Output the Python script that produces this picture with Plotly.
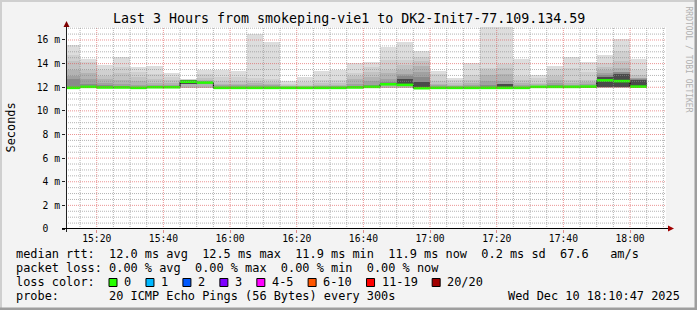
import plotly.graph_objects as go
import pandas as pd

# ---------------- data ----------------
title_text = "Last 3 Hours from smokeping-vie1 to DK2-Init7-77.109.134.59"
y_axis_title = "Seconds"
watermark_text = "RRDTOOL / TOBI OETIKER"
window_start = "2025-12-10 15:10:47"
window_end = "2025-12-10 18:10:47"
first_step = "2025-12-10 15:10:00"
step_minutes = 5

# median RTT per 5-minute step (ms)
median_rtt = [11.95, 12.03, 11.98, 11.98, 11.95, 12.00, 12.00, 12.47, 12.40, 11.95,
              11.95, 11.95, 11.95, 11.95, 11.95, 11.95, 11.95, 11.98, 12.03, 12.25,
              12.20, 11.92, 11.95, 11.95, 11.95, 11.95, 11.95, 11.95, 12.03, 12.03,
              12.03, 12.05, 12.58, 12.52, 12.05]
# lowest ping per step
rtt_min = [11.88, 11.92, 11.90, 11.90, 11.88, 11.90, 11.90, 11.95, 11.95, 11.88,
           11.88, 11.88, 11.88, 11.88, 11.88, 11.88, 11.88, 11.90, 11.92, 11.95,
           11.95, 11.85, 11.88, 11.88, 11.88, 11.88, 11.88, 11.88, 11.92, 11.92,
           11.92, 11.95, 11.95, 11.92, 11.95]
# smoke: outer (max) to inner layer tops
smoke_max = [15.57, 14.38, 13.90, 14.58, 13.68, 13.79, 13.22, 12.72, 13.45, 13.45,
             13.36, 16.55, 15.85, 12.56, 12.87, 13.40, 13.50, 14.05, 14.12, 15.42,
             15.80, 15.03, 13.35, 12.77, 14.05, 17.10, 17.10, 14.38, 13.06, 13.80,
             14.60, 14.10, 14.75, 16.07, 14.38]
smoke_l2 = [14.70, 14.10, 13.50, 13.73, 13.30, 13.14, 12.85, 12.68, 13.08, 12.88,
            12.88, 12.75, 12.66, 12.30, 12.45, 12.63, 12.60, 13.20, 13.68, 14.30,
            14.30, 14.60, 13.15, 12.63, 13.06, 13.67, 13.95, 12.97, 12.77, 13.56,
            13.62, 13.33, 14.04, 15.03, 13.47]
smoke_l3 = [14.24, 13.45, 12.94, 13.20, 12.88, 12.66, 12.60, 12.64, 12.80, 12.55,
            12.50, 12.55, 12.45, 12.15, 12.20, 12.35, 12.35, 12.94, 13.30, 13.45,
            13.90, 14.24, 12.50, 12.40, 12.63, 13.47, 13.60, 12.60, 12.40, 12.97,
            12.63, 12.63, 13.75, 14.18, 13.00]
smoke_l4 = [13.45, 13.22, 12.70, 12.60, 12.50, 12.40, 12.35, 12.60, 12.60, 12.30,
            12.30, 12.35, 12.30, 12.10, 12.10, 12.20, 12.20, 12.66, 12.88, 13.17,
            13.50, 13.76, 12.30, 12.20, 12.35, 13.06, 13.10, 12.35, 12.25, 12.60,
            12.40, 12.45, 13.47, 13.62, 12.80]
smoke_l5 = [12.94, 12.66, 12.40, 12.24, 12.20, 12.20, 12.20, 12.55, 12.50, 12.15,
            12.15, 12.20, 12.15, 12.05, 12.05, 12.10, 12.10, 12.30, 12.50, 12.70,
            13.10, 13.30, 12.15, 12.10, 12.15, 12.55, 12.50, 12.15, 12.12, 12.35,
            12.20, 12.25, 13.20, 13.30, 12.75]
smoke_l6 = [12.66, 12.30, 12.15, 12.10, 12.05, 12.08, 12.08, 12.50, 12.45, 12.05,
            12.05, 12.05, 12.05, 12.00, 12.00, 12.03, 12.03, 12.10, 12.20, 12.45,
            12.95, 12.90, 12.05, 12.03, 12.05, 12.20, 12.20, 12.05, 12.05, 12.15,
            12.08, 12.10, 13.05, 13.25, 12.68]
# darkest core layer top (only visible where inner pings are spread)
smoke_core = [11.92, 11.98, 11.95, 11.95, 11.92, 11.96, 11.96, 12.62, 12.30, 11.92,
              11.92, 11.92, 11.92, 11.92, 11.92, 11.92, 11.92, 11.95, 11.98, 12.35,
              12.70, 12.45, 11.92, 11.92, 11.92, 11.92, 12.30, 11.92, 11.98, 11.98,
              11.98, 12.00, 12.90, 13.15, 12.62]
# lower edge of the inner (darker) smoke layers
inner_lo = [11.92, 11.98, 11.95, 11.95, 11.92, 11.96, 11.96, 12.30, 12.30, 11.92,
            11.92, 11.92, 11.92, 11.92, 11.92, 11.92, 11.92, 11.95, 11.98, 12.15,
            12.10, 11.90, 11.92, 11.92, 11.92, 11.92, 11.92, 11.92, 11.98, 11.98,
            11.98, 12.00, 12.00, 11.98, 12.00]

x_tick_labels = ["15:20", "15:40", "16:00", "16:20", "16:40", "17:00", "17:20", "17:40", "18:00"]
y_tick_values = [0, 2, 4, 6, 8, 10, 12, 14, 16]
y_tick_labels = ["0\u00a0\u00a0", "2 m", "4 m", "6 m", "8 m", "10 m", "12 m", "14 m", "16 m"]

rtt_stat_names = ["avg", "max", "min", "now"]
rtt_stat_values = [12.0, 12.5, 11.9, 11.9]
rtt_sd = 0.2
rtt_am_s = 67.6
loss_stat_names = ["avg", "max", "min", "now"]
loss_stat_values = [0.00, 0.00, 0.00, 0.00]
loss_labels = ["0", "1", "2", "3", "4-5", "6-10", "11-19", "20/20"]
loss_colors = ["#26ff00", "#00b8ff", "#0059ff", "#7e00ff", "#ff00ff", "#ff5500", "#ff0000", "#a10000"]
probe_text = "20 ICMP Echo Pings (56 Bytes) every 300s"
timestamp_text = "Wed Dec 10 18:10:47 2025"

# ---------------- geometry ----------------
W, H = 697, 310
L, R, T, B = 66, 666, 27, 229
MONO = "DejaVu Sans Mono, monospace"


def px(x):
    return (x - L) / (R - L)


def py(y):
    return (B - y) / (B - T)


step = pd.Timedelta(minutes=step_minutes)
starts = pd.date_range(first_step, periods=len(median_rtt), freq=f"{step_minutes}min")
ends = starts + step

fig = go.Figure()

layers = [
    (smoke_max, rtt_min, "#dddddd"),
    (smoke_l2, rtt_min, "#d0d0d0"),
    (smoke_l3, rtt_min, "#c3c3c3"),
    (smoke_l4, rtt_min, "#b3b3b3"),
    (smoke_l5, inner_lo, "#a1a1a1"),
    (smoke_l6, inner_lo, "#8a8a8a"),
    (smoke_core, inner_lo, "#4a4a4a"),
]
for top, lo, col in layers:
    fig.add_trace(go.Bar(
        x=starts, y=[t - l for t, l in zip(top, lo)], base=lo,
        width=step_minutes * 60 * 1000, offset=0,
        marker=dict(color=col, line=dict(width=0)),
        hoverinfo="skip", showlegend=False))

# black step outline of the median
fig.add_trace(go.Scatter(
    x=list(starts) + [ends[-1]], y=median_rtt + [median_rtt[-1]],
    mode="lines", line=dict(shape="hv", color="#000000", width=1),
    hoverinfo="skip", showlegend=False))

# green median segments (0 loss)
gx, gy = [], []
for s, e, m in zip(starts, ends, median_rtt):
    gx += [s, e, None]
    gy += [m, m, None]
fig.add_trace(go.Scatter(x=gx, y=gy, mode="lines",
                         line=dict(color=loss_colors[0], width=2.6),
                         hoverinfo="skip", showlegend=False))

shapes = []
# grid on top of the smoke (rrdtool style)
minor_col = "rgba(140,140,140,0.65)"
major_col = "rgba(222,79,79,0.6)"
t = pd.Timestamp("2025-12-10 15:15:00")
while t <= pd.Timestamp(window_end):
    major = t.minute % 20 == 0
    shapes.append(dict(type="line", xref="x", yref="paper", x0=t, x1=t, y0=0, y1=1,
                       line=dict(color=major_col if major else minor_col, width=1, dash="1px,1px"),
                       layer="above"))
    t += step
for i in range(1, 35):
    v = i * 0.5
    major = i % 4 == 0
    shapes.append(dict(type="line", xref="paper", yref="y", x0=0, x1=1, y0=v, y1=v,
                       line=dict(color=major_col if major else minor_col, width=1, dash="1px,1px"),
                       layer="above"))

# axis lines and arrows
shapes.append(dict(type="line", xref="paper", yref="paper", x0=px(66.5), x1=px(66.5),
                   y0=py(232), y1=py(24), line=dict(color="#212121", width=1), layer="above"))
shapes.append(dict(type="line", xref="paper", yref="paper", x0=px(62), x1=px(669),
                   y0=py(228.5), y1=py(228.5), line=dict(color="#000000", width=1), layer="above"))


def tri(pts, color):
    path = "M " + " L ".join(f"{px(a)},{py(b)}" for a, b in pts) + " Z"
    return dict(type="path", xref="paper", yref="paper", path=path,
                fillcolor=color, line=dict(width=0), layer="above")


shapes.append(tri([(63.5, 27), (69.5, 27), (66.5, 21)], "#7f0000"))
shapes.append(tri([(668, 225.5), (668, 231.5), (674, 228.5)], "#a00000"))

# frame
shapes += [
    dict(type="rect", xref="paper", yref="paper", x0=px(0), x1=px(697), y0=py(0), y1=py(2),
         fillcolor="#cfcfcf", line=dict(width=0), layer="above"),
    dict(type="rect", xref="paper", yref="paper", x0=px(0), x1=px(2), y0=py(0), y1=py(310),
         fillcolor="#cfcfcf", line=dict(width=0), layer="above"),
    dict(type="rect", xref="paper", yref="paper", x0=px(0), x1=px(697), y0=py(307.5), y1=py(310),
         fillcolor="#9e9e9e", line=dict(width=0), layer="above"),
    dict(type="rect", xref="paper", yref="paper", x0=px(694.5), x1=px(697), y0=py(0), y1=py(310),
         fillcolor="#9e9e9e", line=dict(width=0), layer="above"),
]

annotations = []


def text(x, y, s, size=11.9, xanchor="left", color="#000000", angle=0):
    annotations.append(dict(x=px(x), y=py(y), xref="paper", yref="paper", text=s.replace(" ", "\u00a0"),
                            showarrow=False, xanchor=xanchor, yanchor="middle", textangle=angle,
                            font=dict(family=MONO, size=size, color=color), borderpad=0))


text(348.5, 18.4, title_text, size=13.3, xanchor="center")
text(10.5, 128, y_axis_title, xanchor="center", angle=-90)
text(688.5, 59, watermark_text, size=8, xanchor="center", color="#b0b0b0", angle=90)

row1 = "median rtt:  " + "  ".join(f"{v:.1f} ms {n}" for n, v in zip(rtt_stat_names, rtt_stat_values)) \
       + f"  {rtt_sd:.1f} ms sd  {rtt_am_s:.1f}   am/s"
row2 = "packet loss: " + "  ".join(f"{v:.2f} % {n}" for n, v in zip(loss_stat_names, loss_stat_values))
text(15, 254, row1)
text(15, 268, row2)
text(15, 282, "loss color:")
CW = 7.16
xpos = 109.0
for lab, col in zip(loss_labels, loss_colors):
    shapes.append(dict(type="rect", xref="paper", yref="paper", x0=px(xpos), x1=px(xpos + 8),
                       y0=py(278.5), y1=py(286.5), fillcolor=col,
                       line=dict(color="#000000", width=1), layer="above"))
    lx = xpos + 14.3
    text(lx, 282, lab)
    xpos = lx + len(lab) * CW + 15.5
text(15, 296, "probe:       " + probe_text)
text(681, 296, timestamp_text, xanchor="right")

tick_times = [pd.Timestamp(f"2025-12-10 {lab}:00") for lab in x_tick_labels]

fig.update_layout(
    width=W, height=H,
    margin=dict(l=L, r=W - R, t=T, b=H - B, pad=0),
    paper_bgcolor="#f3f3f3", plot_bgcolor="#ffffff",
    barmode="overlay", bargap=0,
    shapes=shapes, annotations=annotations,
    showlegend=False,
    xaxis=dict(type="date", range=[window_start, window_end], showgrid=False, zeroline=False,
               showline=False, tickmode="array", tickvals=tick_times, ticktext=x_tick_labels,
               ticks="outside", ticklen=3, tickcolor="#e08a8a", ticklabelstandoff=-3,
               tickfont=dict(family=MONO, size=9.7, color="#000000"), fixedrange=True),
    yaxis=dict(range=[0, 17.1], showgrid=False, zeroline=False, showline=False,
               tickmode="array", tickvals=y_tick_values, ticktext=y_tick_labels,
               ticks="outside", ticklen=3, tickcolor="#212121",
               tickfont=dict(family=MONO, size=9.7, color="#000000"), fixedrange=True),
)

fig.write_html("out.html")
